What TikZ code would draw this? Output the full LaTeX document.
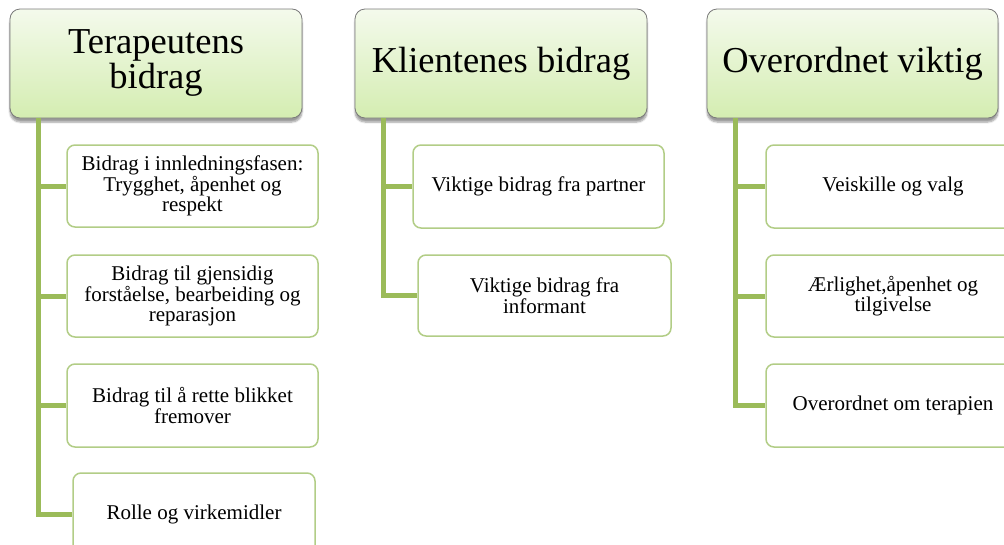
\documentclass[tikz,border=0pt]{standalone}
\usepackage{fontspec}
\setmainfont{Liberation Serif}
\usetikzlibrary{shadows.blur}
\definecolor{conncol}{HTML}{9BBB59}
\definecolor{boxline}{HTML}{B2CD86}
\definecolor{headtop}{HTML}{F4FAEC}
\definecolor{headbot}{HTML}{D4EDB1}
\definecolor{headline}{HTML}{7A7A7A}
\tikzset{
  headbox/.style={rectangle, rounded corners=10pt, draw=headline, line width=0.8pt,
    top color=headtop, bottom color=headbot, align=center, inner sep=0pt,
    font=\fontsize{36.5}{37}\selectfont, text=black,
    blur shadow={shadow xshift=0pt, shadow yshift=-4pt, shadow blur steps=6, shadow opacity=40}},
  childbox/.style={rectangle, rounded corners=8pt, draw=boxline, line width=1.5pt, fill=white,
    align=center, inner sep=0pt, font=\fontsize{21}{20.5}\selectfont, text=black},
  conn/.style={draw=conncol, line width=5pt}
}
\begin{document}
\begin{tikzpicture}[x=1pt,y=-1pt]
\useasboundingbox (0,0) rectangle (1004,544);
\clip (0,0) rectangle (1004,544);
% headers
\node[headbox, minimum width=292pt, minimum height=109pt] (h1) at (156,63.5) {\raisebox{-4pt}{\begin{tabular}{@{}c@{}}Terapeutens\\[-1.5pt]bidrag\end{tabular}}};
\node[headbox, minimum width=292pt, minimum height=109pt] (h2) at (501,63.5) {Klientenes bidrag};
\node[headbox, minimum width=291pt, minimum height=109pt] (h3) at (852.5,63.5) {Overordnet viktig};
% trunk anchors
\coordinate (t1) at (38,118);
\coordinate (t2) at (383,118);
\coordinate (t3) at (735,118);
% column 1
\node[childbox, minimum width=251pt, minimum height=82pt] (c11) at (192.5,186) {Bidrag i innledningsfasen:\\Trygghet, åpenhet og\\respekt};
\node[childbox, minimum width=251pt, minimum height=82pt] (c12) at (192.5,296) {Bidrag til gjensidig\\forståelse, bearbeiding og\\reparasjon};
\node[childbox, minimum width=251pt, minimum height=83pt] (c13) at (192.5,405.5) {Bidrag til å rette blikket\\fremover};
\node[childbox, minimum width=242pt, minimum height=82pt] (c14) at (194,514) {Rolle og virkemidler};
% column 2
\node[childbox, minimum width=251pt, minimum height=83pt] (c21) at (538.5,186.5) {Viktige bidrag fra partner};
\node[childbox, minimum width=253pt, minimum height=81pt] (c22) at (544.5,295.5) {Viktige bidrag fra\\informant};
% column 3
\node[childbox, minimum width=254pt, minimum height=83pt] (c31) at (893,186.5) {Veiskille og valg};
\node[childbox, minimum width=254pt, minimum height=82pt] (c32) at (893,296) {Ærlighet,åpenhet og\\tilgivelse};
\node[childbox, minimum width=254pt, minimum height=83pt] (c33) at (893,405.5) {Overordnet om terapien};
% connectors
\foreach \c in {c11,c12,c13,c14} \draw[conn] (t1) |- (\c.west);
\foreach \c in {c21,c22} \draw[conn] (t2) |- (\c.west);
\foreach \c in {c31,c32,c33} \draw[conn] (t3) |- (\c.west);
\end{tikzpicture}
\end{document}
